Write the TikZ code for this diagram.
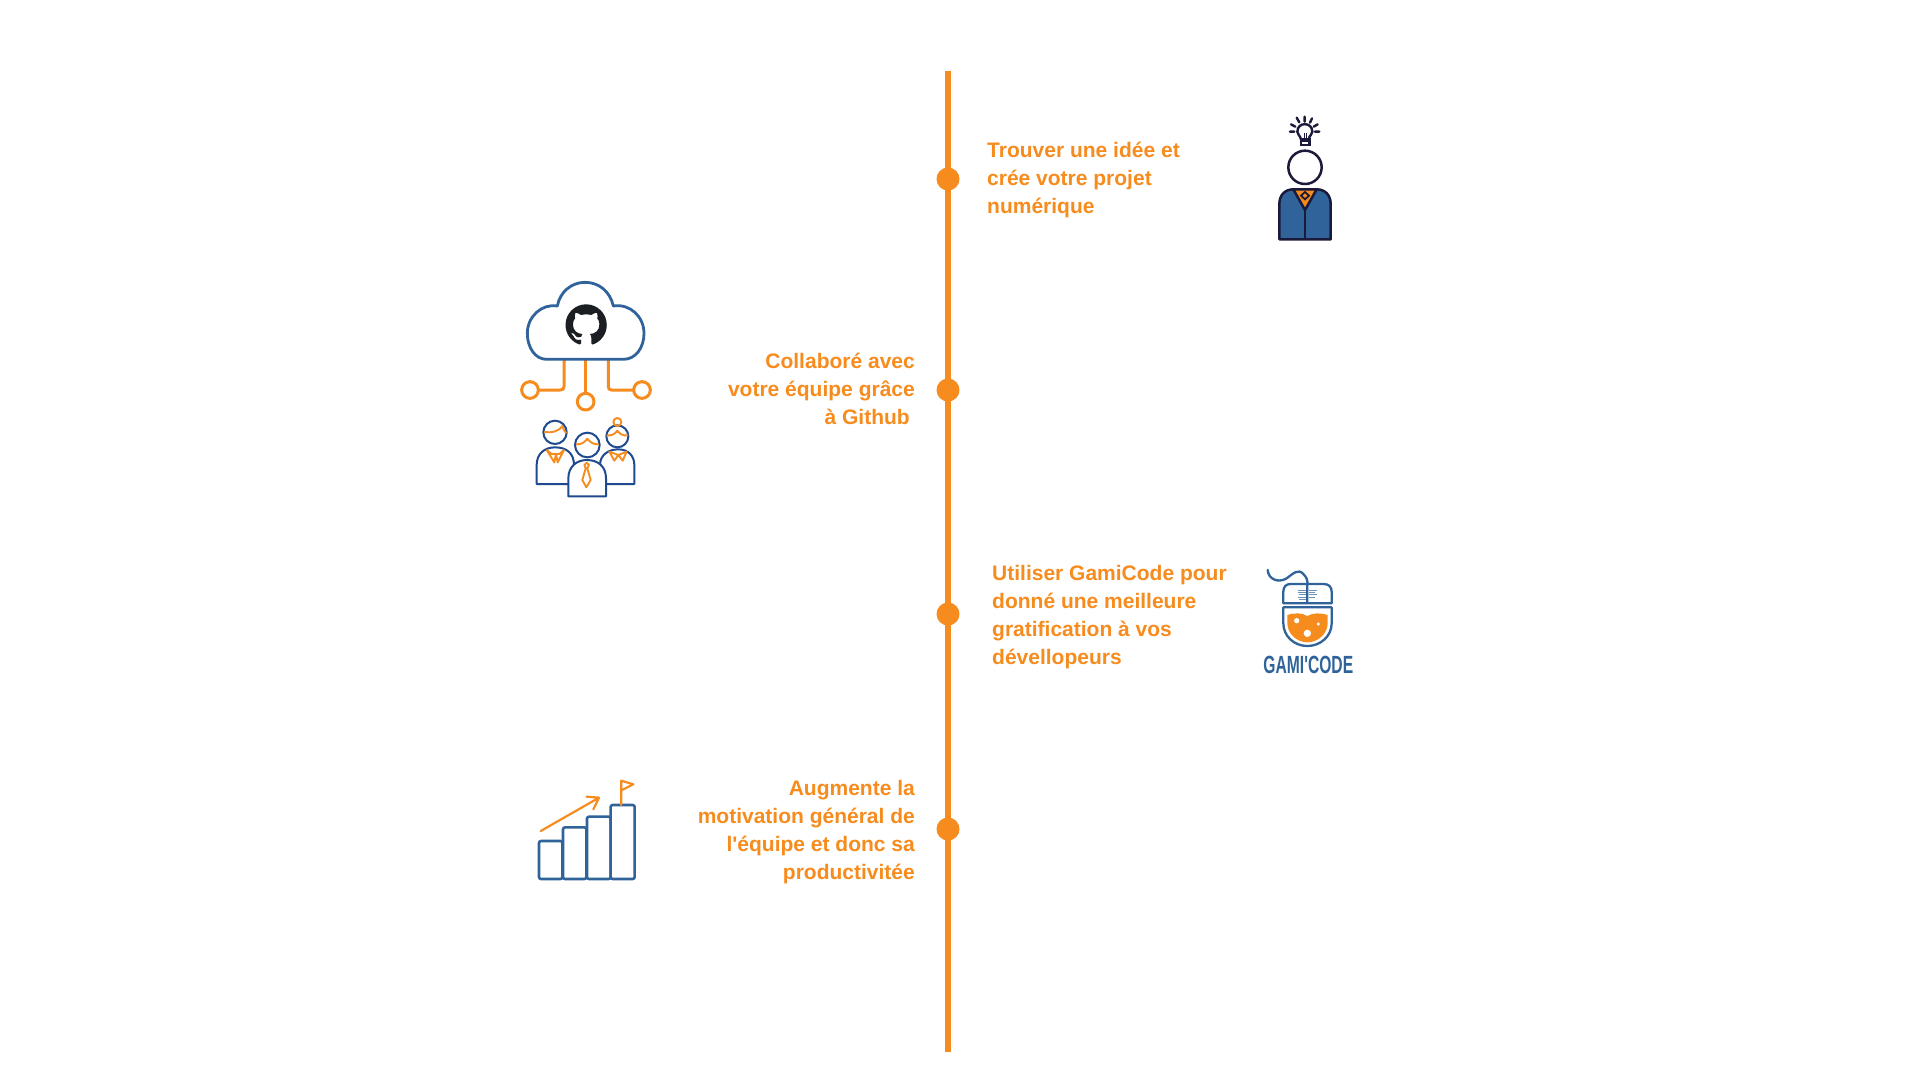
\documentclass[tikz,border=0pt]{standalone}
\usepackage{fontspec}
\newfontfamily\labfont{Liberation Sans}
\setmainfont{Liberation Sans}
\usetikzlibrary{svg.path}
\definecolor{org}{HTML}{F78C1E}
\definecolor{blu}{HTML}{2F6399}
\definecolor{nav}{HTML}{1B1A3A}
\definecolor{ppl}{HTML}{1F4A8F}
\definecolor{ghb}{HTML}{1B1F24}
\tikzset{
  dot/.style={circle,fill=org,minimum size=23pt,inner sep=0pt},
  lab/.style={text=org,font=\labfont\fontsize{21}{28}\selectfont\bfseries,inner sep=0pt},
  labr/.style={lab,align=right,anchor=east},
  labl/.style={lab,align=left,anchor=west},
  crop/.style={x=0.33333pt,y=-0.33333pt},
  org2/.style={draw=org,line width=3pt,line join=round,line cap=round},
  blu2/.style={draw=blu,line width=2.8pt,line join=round,line cap=round},
  ppl1/.style={draw=ppl,line width=2pt,line join=round},
  org1/.style={draw=org,line width=1.9pt,line join=round},
  nav2/.style={draw=nav,line width=2.5pt,line join=round},
}
\begin{document}
\begin{tikzpicture}[x=1pt,y=-1pt]
\useasboundingbox (0,0) rectangle (1920,1080);
\fill[white] (0,0) rectangle (1920,1080);
% timeline
\coordinate (top) at (948,71);
\coordinate (bot) at (948,1052);
\draw[org,line width=6pt] (top) -- (bot);
\node[dot] (d1) at (948,179) {};
\node[dot] (d2) at (948,390) {};
\node[dot] (d3) at (948,614) {};
\node[dot] (d4) at (948,829) {};
% labels
\node[labl] (t1) at (987,180) {Trouver une idée et\\crée votre projet\\numérique};
\node[labr] (t2) at (915,388.5) {Collaboré avec\\votre équipe grâce\\à Github\kern5pt\mbox{}};
\node[labl] (t3) at (992,617) {Utiliser GamiCode pour\\donné une meilleure\\gratification à vos\\dévellopeurs};
\node[labr] (t4) at (915,832) {Augmente la\\motivation général de\\l'équipe et donc sa\\productivitée};
% person with bulb
\begin{scope}[shift={(1240,100)},crop]
  \draw[nav2,fill=blu] (118,418) -- (118,312) .. controls (118,285) and (135,268) .. (160,268) -- (230,268) .. controls (255,268) and (272,285) .. (272,312) -- (272,418) -- cycle;
  \draw[nav2,fill=org] (160,268) -- (230,268) -- (195,330) -- cycle;
  \draw[nav,line width=1.8pt] (195,276) -- (207,287) -- (195,298) -- (183,287) -- cycle;
  \draw[nav,line width=2pt] (195,330) -- (195,418);
  \draw[nav2,fill=white] (195,202) circle[radius=50];
  \draw[nav,line width=2.4pt] (183,118) .. controls (180,105) and (172,105) .. (172,95) .. controls (172,65) and (217,65) .. (217,95) .. controls (217,105) and (208,105) .. (206,118);
  \draw[nav,line width=2.4pt] (183,118) rectangle (208,135);
  \draw[nav,line width=1.5pt] (183,125) -- (208,125);
  \draw[nav,line width=1.5pt] (193,118) -- (193,100) (200,118) -- (200,100);
  \draw[nav,line width=2.4pt,line cap=round] (150,95) -- (163,95) (153,73) -- (166,80) (170,53) -- (178,67) (194,50) -- (194,65) (216,55) -- (210,68) (233,73) -- (221,80) (238,95) -- (225,95);
\end{scope}
% cloud
\begin{scope}[shift={(510,270)},crop]
  \draw[org2] (162,270) -- (162,350) .. controls (162,357) and (158,360) .. (150,360) -- (85,360);
  \draw[org2] (227,270) -- (227,370);
  \draw[org2] (295,270) -- (295,350) .. controls (295,357) and (298,360) .. (305,360) -- (370,360);
  \draw[org2] (60,360) circle[radius=25];
  \draw[org2] (227,395) circle[radius=25];
  \draw[org2] (396,360) circle[radius=25];
  \draw[blu2,fill=white] (110,268) .. controls (75,268) and (52,232) .. (52,190) .. controls (52,140) and (95,100) .. (142,108) .. controls (150,65) and (185,37) .. (225,37) .. controls (268,37) and (300,65) .. (310,108) .. controls (360,100) and (402,140) .. (402,190) .. controls (402,232) and (378,268) .. (340,268) -- cycle;
\end{scope}
% github mark
\begin{scope}[shift={(565.5,304.3)},scale=2.58,yscale=-1]
  \fill[ghb,even odd rule] svg "M8 0 C3.58 0 0 3.58 0 8 c0 3.54 2.29 6.53 5.47 7.59 .4 .07 .55 -.17 .55 -.38 0 -.19 -.01 -.82 -.01 -1.49 -2.01 .37 -2.53 -.49 -2.69 -.94 -.09 -.23 -.48 -.94 -.82 -1.13 -.28 -.15 -.68 -.52 -.01 -.53 .63 -.01 1.08 .58 1.23 .82 .72 1.21 1.87 .87 2.33 .66 .07 -.52 .28 -.87 .51 -1.07 -1.78 -.2 -3.64 -.89 -3.64 -3.95 0 -.87 .31 -1.59 .82 -2.15 -.08 -.2 -.36 -1.02 .08 -2.12 0 0 .67 -.21 2.2 .82 .64 -.18 1.32 -.27 2 -.27 .68 0 1.36 .09 2 .27 1.53 -1.04 2.2 -.82 2.2 -.82 .44 1.1 .16 1.92 .08 2.12 .51 .56 .82 1.27 .82 2.15 0 3.07 -1.87 3.75 -3.65 3.95 .29 .25 .54 .73 .54 1.48 0 1.07 -.01 1.93 -.01 2.2 0 .21 .15 .46 .55 .38 C13.71 14.53 16 11.53 16 8 c0 -4.42 -3.58 -8 -8 -8 z";
\end{scope}
% people
\begin{scope}[shift={(520,410)},crop]
  \draw[ppl1,fill=white] (50,222) -- (50,165) .. controls (50,130) and (75,112) .. (105,112) .. controls (140,112) and (162,130) .. (162,165) -- (162,222) -- cycle;
  \draw[ppl1,fill=white] (105,67) circle[radius=35];
  \draw[org1] (73,66) .. controls (95,70) and (120,62) .. (127,48) .. controls (130,58) and (134,64) .. (139,70);
  \draw[org1] (80,120) -- (103,157) -- (108,132) -- (113,157) -- (132,120) -- (118,132) -- (108,132) -- (95,132) -- cycle;
  \draw[ppl1,fill=white] (240,222) -- (240,165) .. controls (240,135) and (265,118) .. (295,118) .. controls (325,118) and (343,138) .. (343,165) -- (343,222) -- cycle;
  \draw[ppl1,fill=white] (292,79) circle[radius=33];
  \draw[org1] (260,76) .. controls (275,78) and (285,72) .. (292,62) .. controls (299,72) and (309,78) .. (324,76);
  \draw[org1] (292,36) circle[radius=12];
  \draw[org1] (268,125) -- (283,152) -- (295,135) -- (308,152) -- (320,125) -- (295,135) -- cycle;
  \draw[ppl1,fill=white] (145,259) -- (145,205) .. controls (145,170) and (170,150) .. (200,150) .. controls (235,150) and (258,170) .. (258,205) -- (258,259) -- cycle;
  \draw[ppl1,fill=white] (202,105) circle[radius=37];
  \draw[org1] (168,103) .. controls (185,104) and (195,96) .. (202,86) .. controls (210,96) and (220,104) .. (236,103);
  \draw[org1] (193,165) -- (200,158) -- (207,165) -- (202,175) -- (212,210) -- (199,232) -- (187,210) -- (197,175) -- cycle;
\end{scope}
% mouse
\begin{scope}[shift={(1250,560)},crop]
  \draw[blu,line width=2.3pt,line cap=round] (53,30) .. controls (55,58) and (85,70) .. (110,55) .. controls (130,40) and (145,25) .. (160,42) .. controls (170,52) and (172,60) .. (173,70);
  \draw[blu,line width=2.3pt,line join=round] (172,72) -- (122,72) .. controls (108,72) and (100,80) .. (100,95) -- (100,130) -- (245,130) -- (245,95) .. controls (245,80) and (235,72) .. (222,72) -- (172,72) -- (172,130);
  \draw[blu!70,line width=1pt] (145,90) -- (168,90) (143,97) -- (168,97) (147,104) -- (168,104) (143,111) -- (168,111) (147,118) -- (168,118) (177,90) -- (200,90) (177,97) -- (196,97) (177,104) -- (200,104) (177,111) -- (196,111);
  \fill[org] (112,165) .. controls (135,158) and (155,158) .. (172,168) .. controls (190,158) and (210,158) .. (233,165) -- (233,190) .. controls (233,220) and (205,247) .. (172,247) .. controls (140,247) and (112,220) .. (112,190) -- cycle;
  \draw[blu,line width=2.3pt,line join=round] (100,142) -- (245,142) -- (245,190) .. controls (245,228) and (212,258) .. (172,258) .. controls (132,258) and (100,228) .. (100,190) -- cycle;
  \fill[white] (140,182) circle[radius=8] (205,192) circle[radius=5] (172,220) circle[radius=11];
  \node[text=blu,inner sep=0pt,font=\labfont\fontsize{23}{23}\selectfont] (gc) at (175,315) {\scalebox{0.68}[1.08]{\bfseries GAMI'CODE}};
\end{scope}
% chart
\begin{scope}[shift={(525,770)},crop]
  \draw[blu2,line width=2.6pt,rounded corners=2pt] (42,327) rectangle (112,213);
  \draw[blu2,line width=2.6pt,rounded corners=2pt] (114,327) rectangle (184,172);
  \draw[blu2,line width=2.6pt,rounded corners=2pt] (186,327) rectangle (257,140);
  \draw[blu2,line width=2.6pt,rounded corners=2pt] (257,327) rectangle (329,105);
  \draw[org2,line width=2.2pt] (47,183) -- (222,83) (185,80) -- (222,83) -- (205,118);
  \draw[org2,line width=2.2pt] (289,105) -- (289,32) -- (325,43) -- (291,60);
\end{scope}
\end{tikzpicture}
\end{document}
